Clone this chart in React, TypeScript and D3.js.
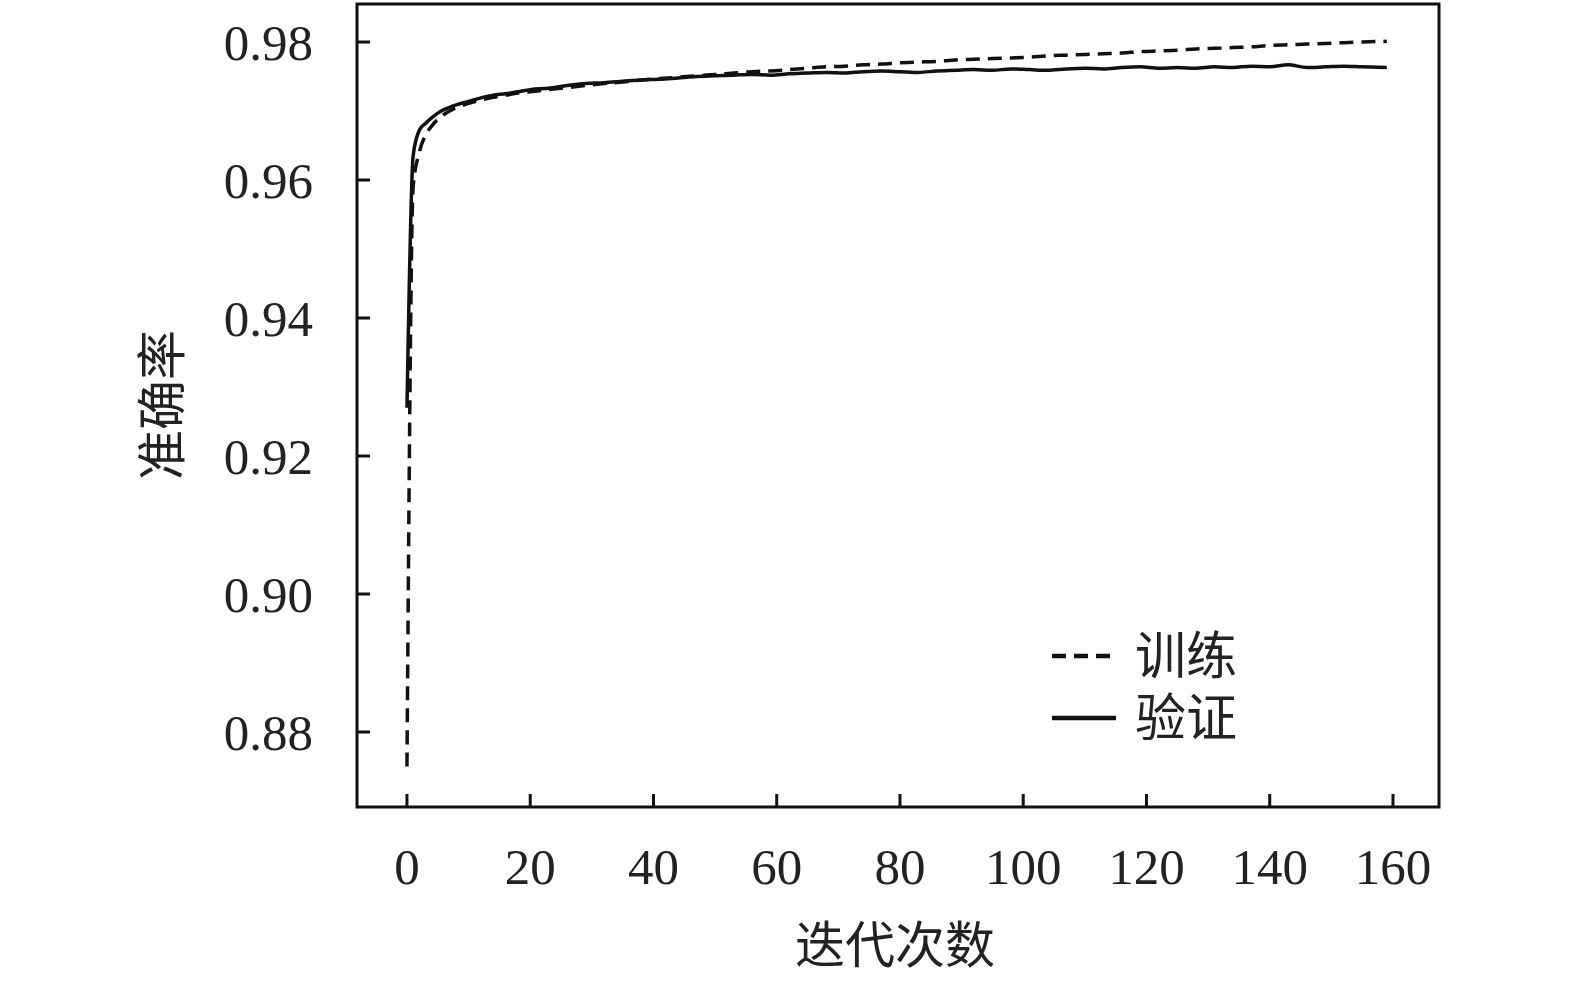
import * as d3 from "d3";

// epochs at which the curves were sampled
const epochs = [
  0, 1, 2, 3, 4, 5, 6, 8, 10, 12, 14, 16, 18, 20,
  23, 26, 29, 32, 35, 38, 41, 44, 47, 50, 53, 56, 59, 62, 65, 68,
  71, 74, 77, 80, 83, 86, 89, 92, 95, 98, 101, 104, 107, 110, 113,
  116, 119, 122, 125, 128, 131, 134, 137, 140, 143, 146, 149, 152, 155, 159,
];

const trainAcc = [
  0.875, 0.959, 0.964, 0.9665, 0.9678, 0.9688, 0.9695, 0.9705, 0.9711, 0.9716, 0.972, 0.9723, 0.9726, 0.9728,
  0.9731, 0.9734, 0.9737, 0.974, 0.9742, 0.9745, 0.9747, 0.9749, 0.9751, 0.9753, 0.9755, 0.9757, 0.9758, 0.976, 0.9762, 0.9764,
  0.9765, 0.9767, 0.9768, 0.977, 0.9771, 0.9772, 0.9774, 0.9775, 0.9776, 0.9777, 0.9778, 0.978, 0.9781, 0.9782, 0.9783,
  0.9784, 0.9786, 0.9787, 0.9788, 0.979, 0.9791, 0.9792, 0.9793, 0.9795, 0.9796, 0.9797, 0.9798, 0.9799, 0.98, 0.9801,
];

const valAcc = [
  0.927, 0.9635, 0.9672, 0.9682, 0.969, 0.9697, 0.9702, 0.9709, 0.9714, 0.9719, 0.9723, 0.9725, 0.9728, 0.9731,
  0.9733, 0.9737, 0.974, 0.9741, 0.9743, 0.9745, 0.9746, 0.9748, 0.975, 0.9751, 0.9752, 0.9753, 0.9752, 0.9754, 0.9755, 0.9756,
  0.9755, 0.9757, 0.9758, 0.9757, 0.9756, 0.9758, 0.9759, 0.976, 0.9759, 0.9761, 0.976, 0.9759, 0.9761, 0.9762, 0.9761,
  0.9763, 0.9764, 0.9762, 0.9763, 0.9762, 0.9764, 0.9763, 0.9765, 0.9764, 0.9767, 0.9763, 0.9764, 0.9765, 0.9764, 0.9763,
];

const xTicks = [0, 20, 40, 60, 80, 100, 120, 140, 160];
const yTicks = [0.88, 0.9, 0.92, 0.94, 0.96, 0.98];

const legendLabels = ["训练", "验证"];
const legendDashes = ["14 8", "none"];

const xTitle = "迭代次数";
const yTitle = "准确率";

const W = 1575;
const H = 982;
const box = { left: 357, right: 1439, top: 4, bottom: 807 };

const serif = "'Liberation Serif', 'DejaVu Serif', serif";
const cjk = "'Noto Sans CJK SC', sans-serif";

export default function App() {
  const x = d3.scaleLinear().domain([-8.11, 167.47]).range([box.left, box.right]);
  const y = d3.scaleLinear().domain([0.86913, 0.98551]).range([box.bottom, box.top]);

  const line = (vals: number[]) =>
    d3
      .line<number>()
      .x((_, i) => x(epochs[i]))
      .y((d) => y(d))
      .curve(d3.curveMonotoneX)(vals) || "";

  const tickLen = 13;
  const legendY = (i: number) => 656 + i * 62;

  return (
    <div style={{ position: "absolute", left: 0, top: 0 }}>
      <svg width={W} height={H} style={{ display: "block", background: "#fff" }}>
        {/* curves */}
        <path d={line(trainAcc)} fill="none" stroke="#111" strokeWidth={3.5} strokeDasharray="14 8" />
        <path d={line(valAcc)} fill="none" stroke="#111" strokeWidth={3.5} />

        {/* frame */}
        <rect
          x={box.left}
          y={box.top}
          width={box.right - box.left}
          height={box.bottom - box.top}
          fill="none"
          stroke="#111"
          strokeWidth={3}
        />

        {/* x ticks */}
        {xTicks.map((t) => (
          <g key={t}>
            <line x1={x(t)} x2={x(t)} y1={box.bottom} y2={box.bottom - tickLen} stroke="#111" strokeWidth={3} />
            <text x={x(t)} y={884} textAnchor="middle" fontFamily={serif} fontSize={51} fill="#222">
              {t}
            </text>
          </g>
        ))}

        {/* y ticks */}
        {yTicks.map((t) => (
          <g key={t}>
            <line x1={box.left} x2={box.left + tickLen} y1={y(t)} y2={y(t)} stroke="#111" strokeWidth={3} />
            <text x={313} y={y(t)} dy="0.35em" textAnchor="end" fontFamily={serif} fontSize={51} fill="#222">
              {t.toFixed(2)}
            </text>
          </g>
        ))}

        {/* axis titles */}
        <text x={895} y={945} dy="0.35em" textAnchor="middle" fontFamily={cjk} fontSize={50} fill="#222">
          {xTitle}
        </text>
        <text
          transform={`translate(162, 405) rotate(-90)`}
          dy="0.35em"
          textAnchor="middle"
          fontFamily={cjk}
          fontSize={50}
          fill="#222"
        >
          {yTitle}
        </text>

        {/* legend */}
        {legendDashes.map((dash, i) => (
          <line
            key={i}
            x1={1052}
            x2={1116}
            y1={legendY(i)}
            y2={legendY(i)}
            stroke="#111"
            strokeWidth={4.5}
            strokeDasharray={dash}
          />
        ))}
        <text fontFamily={cjk} fontSize={51} fill="#222">
          {legendLabels.map((label, i) => (
            <tspan key={label} x={1135} y={legendY(i)} dy="0.35em">
              {label}
            </tspan>
          ))}
        </text>
      </svg>
    </div>
  );
}
